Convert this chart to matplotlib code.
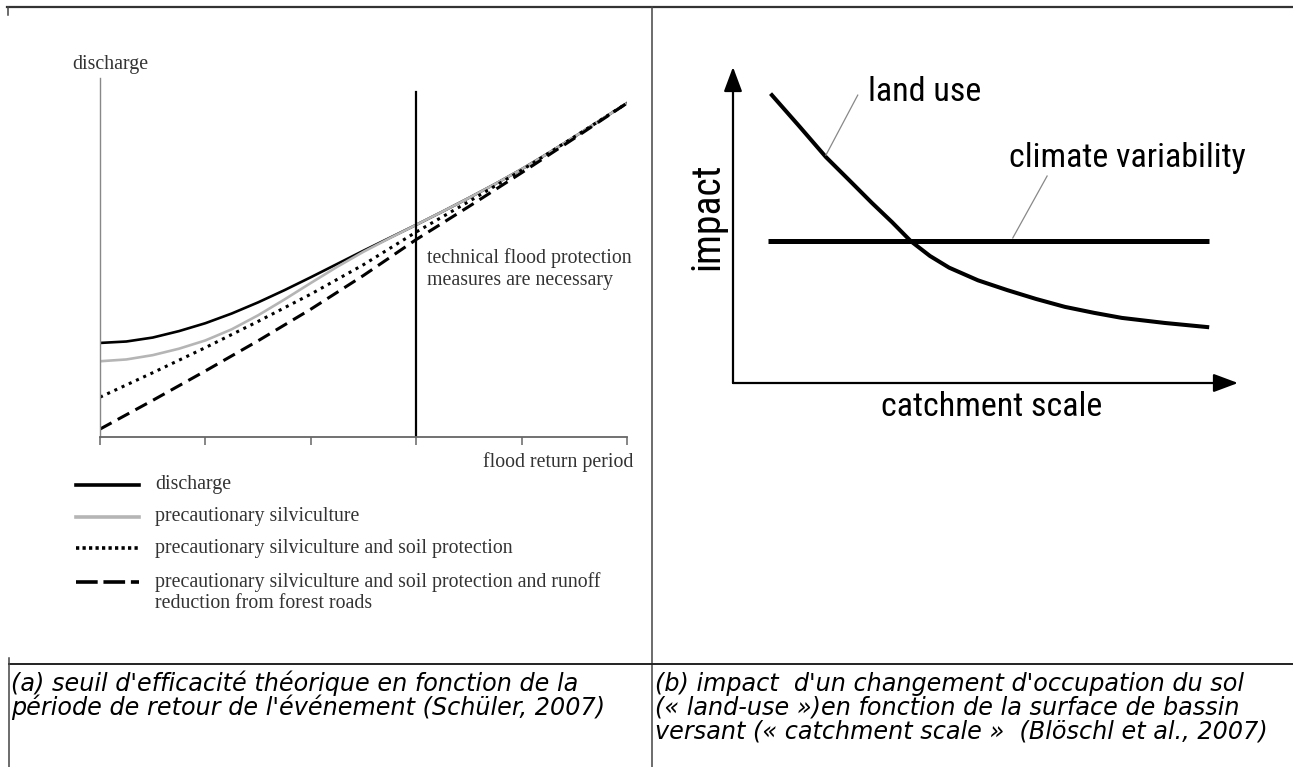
import matplotlib
matplotlib.use("Agg")
import matplotlib.pyplot as plt
from matplotlib import font_manager

W, H = 1293, 767

# (a) discharge against flood return period (Schüler, 2007)
period_fine = [0, 0.25, 0.5, 0.75, 1, 1.25, 1.5, 1.75, 2, 2.25, 2.5, 2.75, 3,
               3.25, 3.5, 3.75, 4, 4.25, 4.5, 4.75, 5]
discharge = [2.62, 2.66, 2.77, 2.95, 3.17, 3.44, 3.75, 4.09, 4.45, 4.82, 5.19,
             5.55, 5.91, 6.28, 6.66, 7.05, 7.46, 7.90, 8.36, 8.83, 9.30]
silviculture = [2.11, 2.16, 2.28, 2.46, 2.69, 3.00, 3.39, 3.83, 4.29, 4.74, 5.16,
                5.54, 5.91, 6.28, 6.66, 7.05, 7.46, 7.90, 8.36, 8.83, 9.30]
period = [0, 0.5, 1, 1.5, 2, 2.5, 3, 3.5, 4, 4.5, 5]
soil_protection = [1.11, 1.79, 2.49, 3.22, 3.98, 4.80, 5.71, 6.56, 7.43, 8.36, 9.30]
forest_roads = [0.22, 1.02, 1.84, 2.68, 3.56, 4.50, 5.50, 6.42, 7.36, 8.32, 9.30]
period_ticks = [0, 1, 2, 3, 4, 5]
threshold = 3.0
threshold_top = 9.61

# (b) impact against catchment scale (Blöschl et al., 2007)
scale_x = [0.77, 1.31, 1.84, 2.30, 2.75, 3.15, 3.52, 3.90, 4.28, 4.85, 5.43,
           6.00, 6.57, 7.15, 7.70, 8.55, 9.39]
land_use = [9.11, 8.13, 7.15, 6.42, 5.70, 5.09, 4.49, 4.02, 3.65, 3.25, 2.94,
            2.66, 2.41, 2.22, 2.06, 1.90, 1.77]
climate_x = [0.69, 9.43]
climate = [4.49, 4.49]

legend_labels = ["discharge", "precautionary silviculture",
                 "precautionary silviculture and soil protection",
                 "precautionary silviculture and soil protection and runoff"]

caption_a = ["(a) seuil d'efficacité théorique en fonction de la",
             "période de retour de l'événement (Schüler, 2007)"]
caption_b = ["(b) impact  d'un changement d'occupation du sol",
             "(« land-use »)en fonction de la surface de bassin",
             "versant (« catchment scale »  (Blöschl et al., 2007)"]

avail = {f.name for f in font_manager.fontManager.ttflist}
narrow = next(f for f in ["Liberation Sans Narrow", "Roboto Condensed", "Liberation Sans"]
              if f in avail or f == "Liberation Sans")
narrow_size = 24.5 if narrow != "Liberation Sans" else 20.5
serif = "Liberation Serif"
serif_size = 14.3
grey_text = "#333333"
cap_size = 17.2


def box(x0, y0, x1, y1):
    # pixel box (top-left origin) -> figure fraction
    return [x0 / W, 1 - y1 / H, (x1 - x0) / W, (y1 - y0) / H]


fig = plt.figure(figsize=(W / 100, H / 100), dpi=100)

# page / table layer
bg = fig.add_axes([0, 0, 1, 1])
bg.set_xlim(0, W)
bg.set_ylim(H, 0)
bg.axis("off")
bg.plot([7, W], [7, 7], color="#333333", lw=1.6)
bg.plot([652, 652], [7, H], color="#444444", lw=1.1)
bg.plot([9, W], [664, 664], color="#222222", lw=1.4)
bg.plot([9, 9], [658, H], color="#444444", lw=1.1)
bg.plot([8, 8], [7, 15], color="#444444", lw=1.1)

for i, line in enumerate(caption_a):
    bg.text(11, 691 + 24 * i, line, fontsize=cap_size, family="DejaVu Sans",
            style="italic", va="baseline", ha="left")
for i, line in enumerate(caption_b):
    bg.text(655, 691 + 24 * i, line, fontsize=cap_size, family="DejaVu Sans",
            style="italic", va="baseline", ha="left")

# chart (a)
ax = fig.add_axes(box(100, 78, 627, 437))
ax.set_facecolor("none")
ax.plot(period_fine, discharge, color="black", lw=1.9)
ax.plot(period_fine, silviculture, color="#b5b5b5", lw=1.9)
ax.plot(period, soil_protection, color="black", lw=2.2, ls=(0, (1.0, 1.6)))
ax.plot(period, forest_roads, color="black", lw=2.2, ls=(0, (4.3, 2.3)))
ax.plot([threshold, threshold], [0, threshold_top], color="black", lw=1.6)
ax.set_xlim(0, 5)
ax.set_ylim(0, 10)
ax.set_xticks(period_ticks)
ax.set_xticklabels([])
ax.set_yticks([])
ax.tick_params(axis="x", direction="out", length=6, width=1.1, color="#666666")
for side in ["top", "right"]:
    ax.spines[side].set_visible(False)
ax.spines["left"].set_color("#888888")
ax.spines["left"].set_linewidth(1.0)
ax.spines["bottom"].set_color("#666666")
ax.spines["bottom"].set_linewidth(1.3)

bg.text(72, 65, "discharge", family=serif, fontsize=serif_size, color=grey_text,
        va="center", ha="left")
bg.text(427, 258, "technical flood protection", family=serif, fontsize=serif_size,
        color=grey_text, va="center", ha="left")
bg.text(427, 280, "measures are necessary", family=serif, fontsize=serif_size,
        color=grey_text, va="center", ha="left")
bg.text(633, 462, "flood return period", family=serif, fontsize=serif_size,
        color=grey_text, va="center", ha="right")

# legend of chart (a)
leg_y = [485, 517, 548, 582]
leg_styles = [dict(color="black", lw=2.6),
              dict(color="#b5b5b5", lw=2.6),
              dict(color="black", lw=2.6, ls=(0, (0.9, 0.9))),
              dict(color="black", lw=2.6, ls=(0, (6.0, 1.6)))]
for y, label, st in zip(leg_y, legend_labels, leg_styles):
    bg.plot([76, 139], [y, y], **st)
    bg.text(155, y, label, family=serif, fontsize=serif_size, color=grey_text,
            va="center", ha="left")
bg.text(155, 604, "reduction from forest roads", family=serif, fontsize=serif_size,
        color=grey_text, va="center", ha="left")

# chart (b)
bx = fig.add_axes(box(733, 67, 1238, 383))
bx.set_facecolor("none")
bx.set_xlim(0, 10)
bx.set_ylim(0, 10)
bx.axis("off")
arrow = dict(arrowstyle="-|>,head_length=0.75,head_width=0.28", color="black",
             lw=1.6, shrinkA=0, shrinkB=0, mutation_scale=20)
bx.annotate("", xy=(10, 0), xytext=(0, 0), arrowprops=arrow)
bx.annotate("", xy=(0, 10), xytext=(0, 0), arrowprops=arrow)
bx.plot(climate_x, climate, color="black", lw=3.6, solid_capstyle="butt")
bx.plot(scale_x, land_use, color="black", lw=2.9)
bx.plot([2.47, 1.84], [9.11, 7.21], color="#888888", lw=0.9)
bx.plot([6.22, 5.54], [6.55, 4.59], color="#888888", lw=0.9)

bg.text(868, 92, "land use", family=narrow, fontsize=narrow_size, va="center", ha="left")
bg.text(1009, 158, "climate variability", family=narrow, fontsize=narrow_size,
        va="center", ha="left")
bg.text(707, 216, "impact", family=narrow, fontsize=narrow_size + 4, rotation=90,
        va="center", ha="center")
bg.text(992, 407, "catchment scale", family=narrow, fontsize=narrow_size,
        va="center", ha="center")

fig.savefig("out.png", dpi=100)
